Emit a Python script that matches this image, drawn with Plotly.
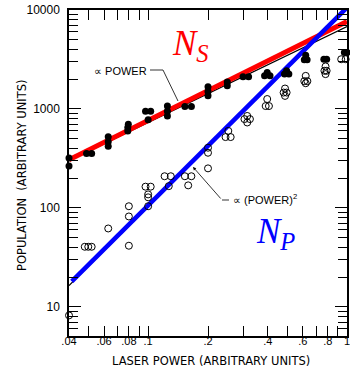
import math
import plotly.graph_objects as go

# ---- data ----
# N_S : filled dots
ns_power = [0.04, 0.04, 0.049, 0.052, 0.063, 0.063, 0.063, 0.0795, 0.079, 0.079,
            0.097, 0.103, 0.1, 0.125, 0.125, 0.125, 0.153, 0.165,
            0.2, 0.2, 0.2, 0.25, 0.25, 0.3, 0.32,
            0.397, 0.385, 0.41, 0.497, 0.485, 0.51,
            0.62, 0.61, 0.63, 0.765, 0.79, 0.97, 1.0]
ns_pop = [320, 265, 355, 355, 525, 465, 420, 700, 650, 600,
          950, 950, 780, 1070, 950, 850, 1060, 1060,
          1680, 1500, 1360, 1870, 1720, 2120, 2120,
          2330, 2160, 2160, 2430, 2250, 2250,
          3480, 3150, 3150, 3180, 3180, 3720, 3720]

# N_P : open circles
np_power = [0.04, 0.048, 0.05, 0.052, 0.063, 0.08, 0.08, 0.08,
            0.097, 0.103, 0.1, 0.1, 0.1,
            0.121, 0.13, 0.127, 0.153, 0.165, 0.159,
            0.2, 0.2, 0.2, 0.253, 0.245, 0.26,
            0.315, 0.305, 0.325, 0.315,
            0.397, 0.39, 0.405, 0.488, 0.48, 0.497, 0.488,
            0.62, 0.61, 0.632, 0.62, 0.78, 0.77, 0.79, 0.78,
            0.935, 0.985]
np_pop = [8.2, 40.5, 40.5, 40.5, 62, 104, 82, 41.5,
          164, 164, 137, 128, 104,
          209, 209, 166, 209, 209, 169,
          406, 361, 251, 600, 520, 520,
          850, 790, 790, 730,
          1260, 1070, 1070, 1610, 1465, 1465, 1355,
          2160, 1910, 1910, 1820, 2690, 2430, 2430, 2250,
          3180, 3180]

# fitted lines (end points)
lin_power = [0.04, 1.0]
lin_black_pop = [300, 6800]
lin_red_pop = [306, 7650]
sq_black_power = [0.04, 1.0]
sq_black_pop = [16.4, 10250]
sq_blue_power = [0.0413, 1.0]
sq_blue_pop = [18.1, 10600]

x_tickvals = [0.04, 0.05, 0.06, 0.07, 0.08, 0.09, 0.1, 0.2, 0.3, 0.4, 0.5, 0.6, 0.7, 0.8, 0.9, 1]
x_ticktext = [".04", "", ".06", "", ".08", "", ".1", ".2", "", ".4", "", ".6", "", ".8", "", "1"]
y_tickvals = [10, 100, 1000, 10000]
y_ticktext = ["10", "100", "1000", "10000"]
y_minor = [6, 7, 8, 9] + [m * 10 for m in range(2, 10)] + [m * 100 for m in range(2, 10)] + [m * 1000 for m in range(2, 10)]

# ---- layout geometry ----
W, H = 350, 376
L, R, T, B = 69, 3, 10, 40
PW, PH = W - L - R, H - T - B


def px(x):
    return (x - L) / PW


def py(y):
    return (H - B - y) / PH


fig = go.Figure()

fig.add_trace(go.Scatter(x=lin_power, y=lin_black_pop, mode="lines",
                         line=dict(color="black", width=1.2), hoverinfo="skip"))
fig.add_trace(go.Scatter(x=sq_black_power, y=sq_black_pop, mode="lines",
                         line=dict(color="black", width=1.2), hoverinfo="skip"))
fig.add_trace(go.Scatter(x=lin_power, y=lin_red_pop, mode="lines",
                         line=dict(color="#ff0000", width=5), hoverinfo="skip"))
fig.add_trace(go.Scatter(x=sq_blue_power, y=sq_blue_pop, mode="lines",
                         line=dict(color="#0000ff", width=4.5), hoverinfo="skip"))

fig.add_trace(go.Scatter(x=ns_power, y=ns_pop, mode="markers", cliponaxis=False,
                         marker=dict(symbol="circle", size=7, color="black",
                                     line=dict(width=0))))
fig.add_trace(go.Scatter(x=np_power, y=np_pop, mode="markers", cliponaxis=False,
                         marker=dict(symbol="circle-open", size=7, color="black",
                                     line=dict(width=1, color="black"))))

axis_common = dict(
    type="log", showgrid=False, zeroline=False, showline=True,
    linecolor="black", linewidth=1.5, mirror="ticks",
    ticks="inside", tickcolor="black", tickwidth=1, automargin=False,
    ticklabeloverflow="allow",
)

fig.update_xaxes(**axis_common,
                 range=[math.log10(0.04), 0],
                 tickmode="array", tickvals=x_tickvals, ticktext=x_ticktext,
                 ticklen=10, ticklabelstandoff=-6,
                 tickfont=dict(family="Arial", size=11, color="black"))
fig.update_yaxes(**axis_common,
                 range=[math.log10(5.08), 4],
                 tickmode="array", tickvals=y_tickvals, ticktext=y_ticktext,
                 ticklen=12, ticklabelstandoff=5,
                 minor=dict(tickmode="array", tickvals=y_minor, ticks="inside",
                            ticklen=9, tickcolor="black", tickwidth=1, showgrid=False),
                 tickfont=dict(family="Arial", size=12, color="black"))

annotations = [
    dict(text="POPULATION  (ARBITRARY UNITS)", x=px(22), y=py(175), textangle=-90,
         font=dict(family="DejaVu Sans", size=11.5, color="black")),
    dict(text="LASER POWER (ARBITRARY UNITS)", x=px(211), y=py(361),
         font=dict(family="DejaVu Sans", size=11.5, color="black")),
    dict(text="\u221d POWER", x=px(149), y=py(71), xanchor="right",
         font=dict(family="Arial", size=11, color="black")),
    dict(text="\u221d (POWER)<sup>2</sup>", x=px(231), y=py(199), xanchor="left",
         font=dict(family="Arial", size=11, color="black")),
    dict(text="<i>N<sub>S</sub></i>", x=px(190), y=py(45),
         font=dict(family="Times New Roman", size=35, color="#ff0000")),
    dict(text="<i>N<sub>P</sub></i>", x=px(275), y=py(233),
         font=dict(family="Times New Roman", size=35, color="#0000ff")),
    # arrow head for the (POWER)^2 leader
    dict(text="", x=px(193), y=py(167), ax=29, ay=33, showarrow=True,
         arrowhead=2, arrowsize=0.8, arrowwidth=0.8, arrowcolor="black"),
]
for a in annotations:
    a.setdefault("xref", "paper")
    a.setdefault("yref", "paper")
    a.setdefault("showarrow", False)
    a.setdefault("xanchor", "center")
    a.setdefault("yanchor", "middle")
fig.update_layout(annotations=annotations)

shapes = [
    dict(type="path", xref="paper", yref="paper",
         path=f"M {px(150)},{py(70)} L {px(163)},{py(70)} L {px(178)},{py(101)}",
         line=dict(color="black", width=0.8)),
    dict(type="line", xref="paper", yref="paper",
         x0=px(222), y0=py(200), x1=px(229), y1=py(200),
         line=dict(color="black", width=0.8)),
]
fig.update_layout(shapes=shapes)

fig.update_layout(width=W, height=H,
                  margin=dict(l=L, r=R, t=T, b=B, autoexpand=False),
                  plot_bgcolor="white", paper_bgcolor="white", showlegend=False)

fig.write_html("out.html",
               config={"displayModeBar": False},
               post_script="document.body.style.margin='0';document.body.style.overflow='hidden';")
